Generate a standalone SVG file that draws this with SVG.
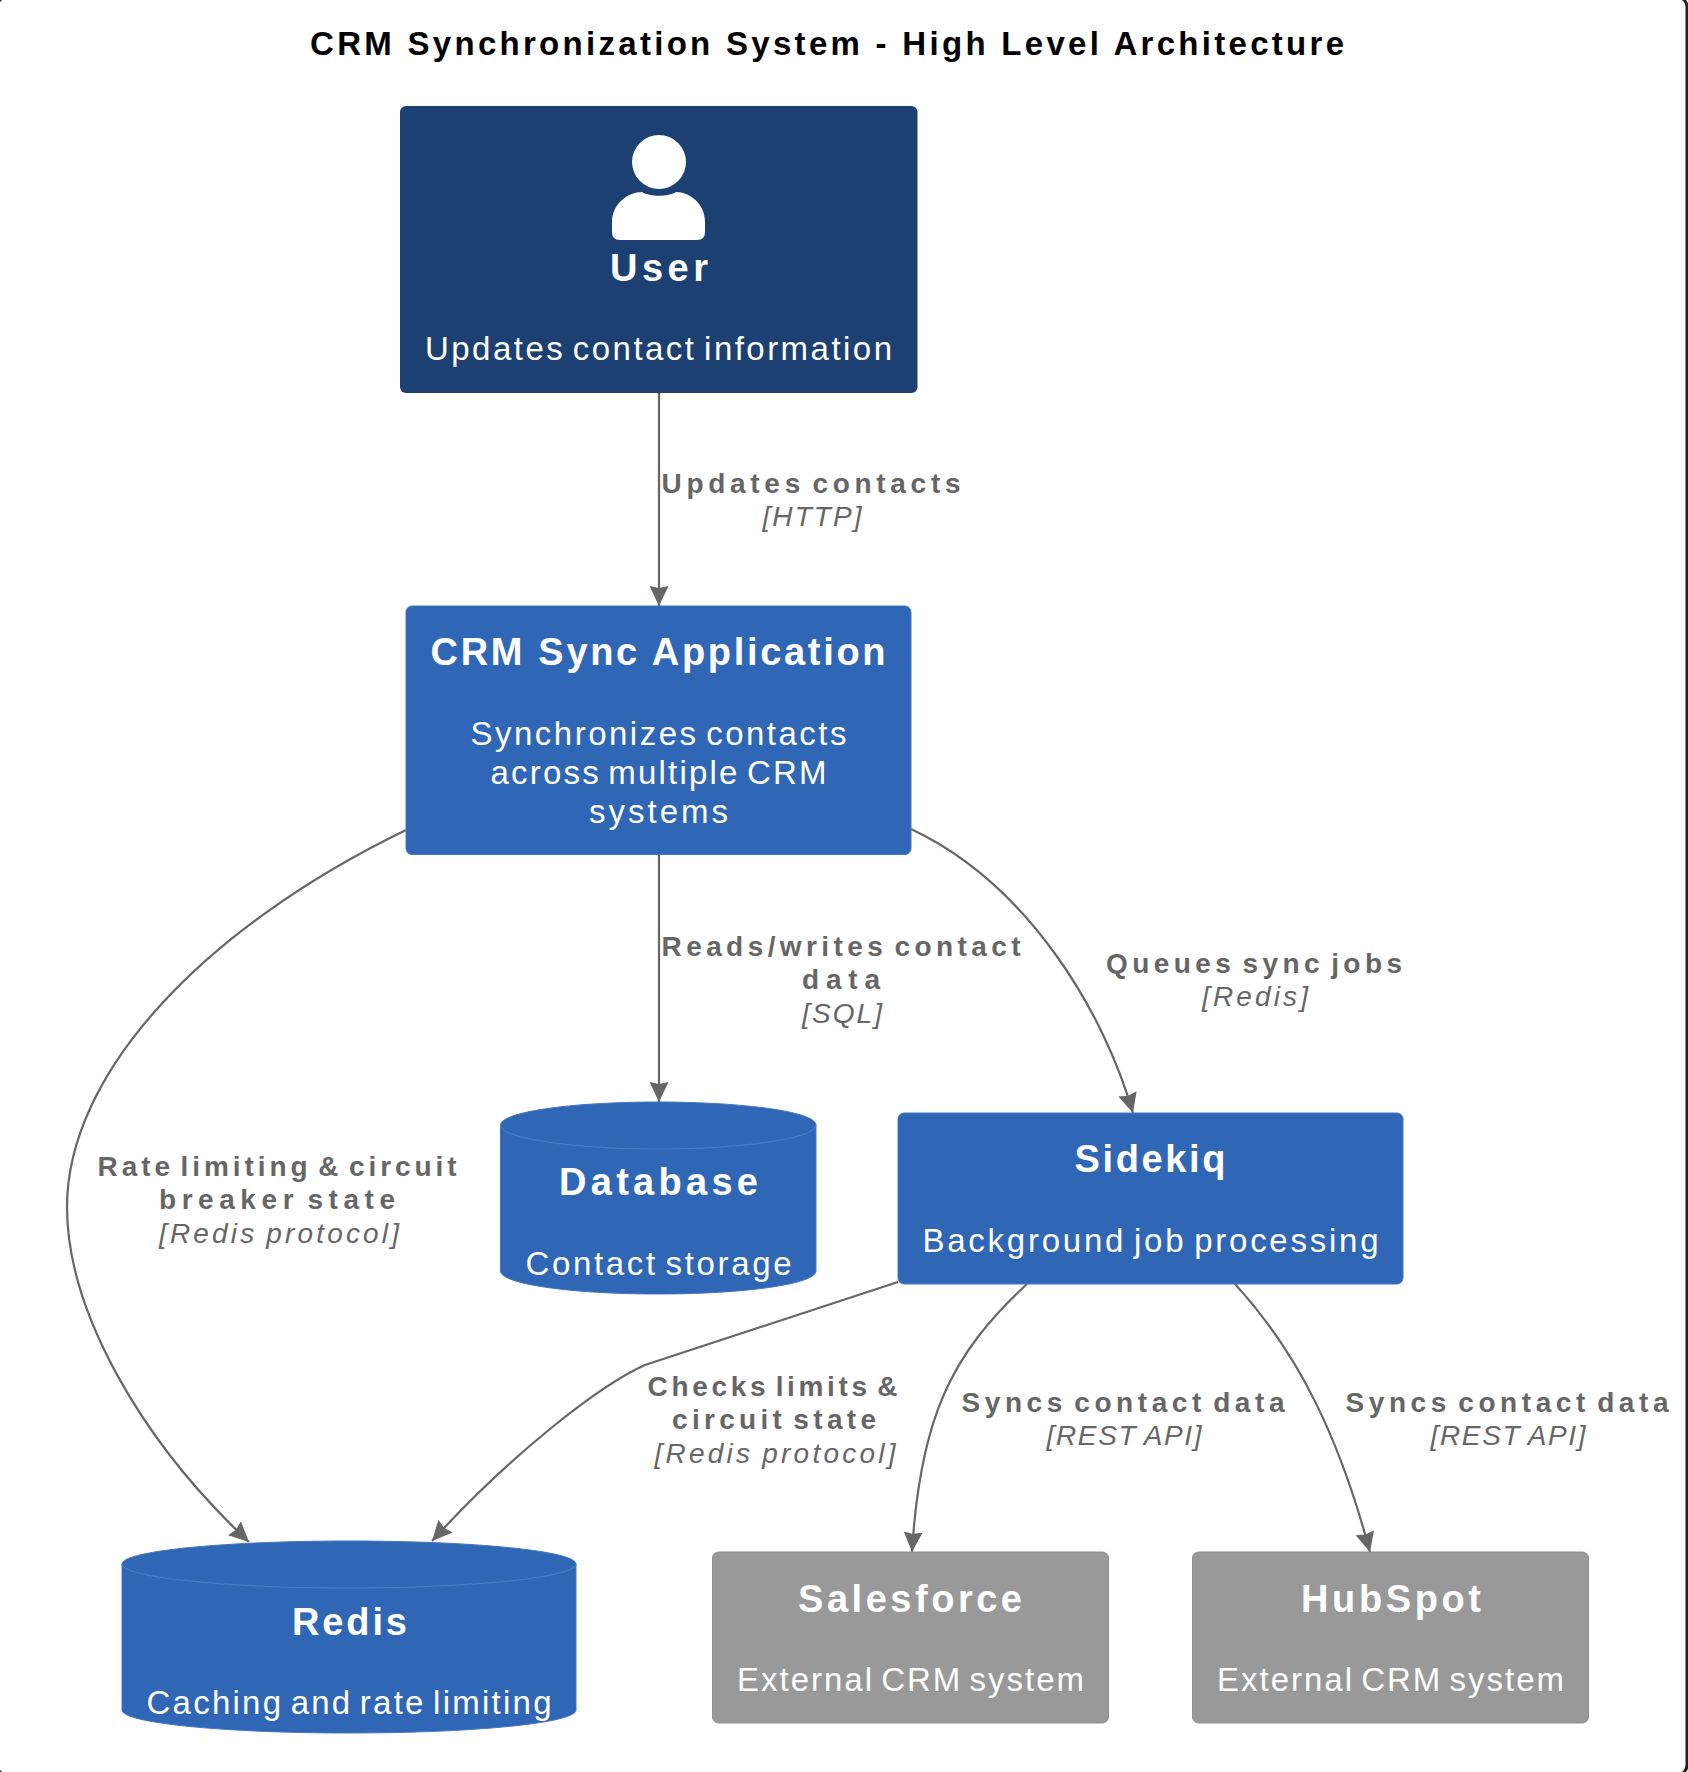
<svg xmlns="http://www.w3.org/2000/svg" width="1688" height="1772" viewBox="0 0 1688 1772">
<style>
text{font-family:"Liberation Sans",Arial,sans-serif;text-anchor:middle}
.title{font-size:33px;font-weight:bold;fill:#000}
.name{font-size:38px;font-weight:bold;fill:#fff}
.desc{font-size:33px;fill:#fff;word-spacing:-4px}
.lab{font-size:28px;font-weight:bold;fill:#666;word-spacing:-5px}
.tech{font-size:28px;font-style:italic;fill:#666;word-spacing:-2px}
.edge{fill:none;stroke:#666;stroke-width:2.2;marker-end:url(#arrow)}
.blue{fill:#3066b6;stroke:#4576bf;stroke-width:1}
.grey{fill:#999;stroke:#8f8f8f;stroke-width:1}
.rim{fill:none;stroke:#4a7cc2;stroke-width:1.2}
</style>
<defs>
<marker id="arrow" markerUnits="userSpaceOnUse" markerWidth="22" markerHeight="20" refX="20" refY="9.500" orient="auto"><path d="M0 0L20 9.500L0 19L2 9.500Z" fill="#666"/></marker>
</defs>
<rect width="1688" height="1772" fill="#fff"/>
<rect id="frame" x="-3" y="-3" width="1690" height="1778" rx="10" fill="none" stroke="#222" stroke-width="3"/>
<text class="title" x="827" y="55" textLength="1034" lengthAdjust="spacing">CRM Synchronization System - High Level Architecture</text>
<g id="connectors">
<path class="edge" d="M659 393V606"/>
<path class="edge" d="M659 854V1102"/>
<path class="edge" d="M911 829C1030 885 1105 1015 1133 1113"/>
<path class="edge" d="M406 830C200 930 67 1075 67 1207C67 1310 140 1440 249 1542"/>
<path class="edge" d="M898 1282L645 1365C600 1385 510 1455 432 1541"/>
<path class="edge" d="M1027 1284C950 1355 920 1420 912 1552"/>
<path class="edge" d="M1235 1284C1300 1355 1340 1440 1370 1552"/>
</g>
<g id="labels">
<text class="lab" x="811" y="493.300" textLength="299" lengthAdjust="spacing">Updates contacts</text>
<text class="tech" x="812" y="526.300" textLength="99" lengthAdjust="spacing">[HTTP]</text>
<text class="lab" x="841" y="956" textLength="359" lengthAdjust="spacing">Reads/writes contact</text>
<text class="lab" x="841" y="989" textLength="78" lengthAdjust="spacing">data</text>
<text class="tech" x="842" y="1023" textLength="80" lengthAdjust="spacing">[SQL]</text>
<text class="lab" x="1254" y="973" textLength="296" lengthAdjust="spacing">Queues sync jobs</text>
<text class="tech" x="1255" y="1006" textLength="106" lengthAdjust="spacing">[Redis]</text>
<text class="lab" x="277" y="1176" textLength="359" lengthAdjust="spacing">Rate limiting &amp; circuit</text>
<text class="lab" x="277" y="1209" textLength="236" lengthAdjust="spacing">breaker state</text>
<text class="tech" x="279" y="1243" textLength="240" lengthAdjust="spacing">[Redis protocol]</text>
<text class="lab" x="772.500" y="1396" textLength="250" lengthAdjust="spacing">Checks limits &amp;</text>
<text class="lab" x="774" y="1429" textLength="204" lengthAdjust="spacing">circuit state</text>
<text class="tech" x="775" y="1463" textLength="241" lengthAdjust="spacing">[Redis protocol]</text>
<text class="lab" x="1123" y="1411.500" textLength="323" lengthAdjust="spacing">Syncs contact data</text>
<text class="tech" x="1124" y="1445" textLength="155" lengthAdjust="spacing">[REST API]</text>
<text class="lab" x="1507" y="1411.500" textLength="323" lengthAdjust="spacing">Syncs contact data</text>
<text class="tech" x="1508" y="1445" textLength="155" lengthAdjust="spacing">[REST API]</text>
</g>
<g id="user">
<rect x="400" y="106" width="517.500" height="287" rx="6" fill="#1d4073"/>
<circle cx="659" cy="162" r="27" fill="#fff"/>
<path d="M612 232V222C612 204 628 192 642 192C650 197 668 197 676 192C690 192 705 204 705 222V232Q705 240 697 240H620Q612 240 612 232Z" fill="#fff"/>
<text class="name" x="659" y="281" textLength="98" lengthAdjust="spacing">User</text>
<text class="desc" x="658.500" y="360" textLength="467" lengthAdjust="spacing">Updates contact information</text>
</g>
<g id="app">
<rect class="blue" x="406" y="606" width="505" height="248.500" rx="6"/>
<text class="name" x="658" y="665" textLength="455" lengthAdjust="spacing">CRM Sync Application</text>
<text class="desc" x="658.500" y="745" textLength="376" lengthAdjust="spacing">Synchronizes contacts</text>
<text class="desc" x="658.500" y="784" textLength="336" lengthAdjust="spacing">across multiple CRM</text>
<text class="desc" x="658.500" y="823" textLength="139" lengthAdjust="spacing">systems</text>
</g>
<g id="database">
<path class="blue" d="M500.500 1125C500.500 1112 571 1102 658 1102C745 1102 816 1112 816 1125V1271C816 1284 745 1294 658 1294C571 1294 500.500 1284 500.500 1271Z"/>
<path class="rim" d="M500.500 1125C500.500 1138 571 1149 658 1149C745 1149 816 1138 816 1125"/>
<text class="name" x="658.500" y="1195" textLength="199" lengthAdjust="spacing">Database</text>
<text class="desc" x="658.500" y="1275" textLength="266" lengthAdjust="spacing">Contact storage</text>
</g>
<g id="sidekiq">
<rect class="blue" x="898" y="1113" width="505" height="171" rx="6"/>
<text class="name" x="1150" y="1172" textLength="151" lengthAdjust="spacing">Sidekiq</text>
<text class="desc" x="1150.500" y="1252" textLength="456" lengthAdjust="spacing">Background job processing</text>
</g>
<g id="redis">
<path class="blue" d="M122 1564C122 1551 224 1541 349 1541C474 1541 576 1551 576 1564V1710C576 1723 474 1733 349 1733C224 1733 122 1723 122 1710Z"/>
<path class="rim" d="M122 1564C122 1577 224 1588 349 1588C474 1588 576 1577 576 1564"/>
<text class="name" x="349.500" y="1635" textLength="115" lengthAdjust="spacing">Redis</text>
<text class="desc" x="349" y="1714" textLength="405" lengthAdjust="spacing">Caching and rate limiting</text>
</g>
<g id="salesforce">
<rect class="grey" x="712.500" y="1552" width="396" height="171" rx="6"/>
<text class="name" x="910" y="1612" textLength="224" lengthAdjust="spacing">Salesforce</text>
<text class="desc" x="910.500" y="1691" textLength="347" lengthAdjust="spacing">External CRM system</text>
</g>
<g id="hubspot">
<rect class="grey" x="1192.500" y="1552" width="396" height="171" rx="6"/>
<text class="name" x="1391" y="1612" textLength="180" lengthAdjust="spacing">HubSpot</text>
<text class="desc" x="1390.500" y="1691" textLength="347" lengthAdjust="spacing">External CRM system</text>
</g>
</svg>
